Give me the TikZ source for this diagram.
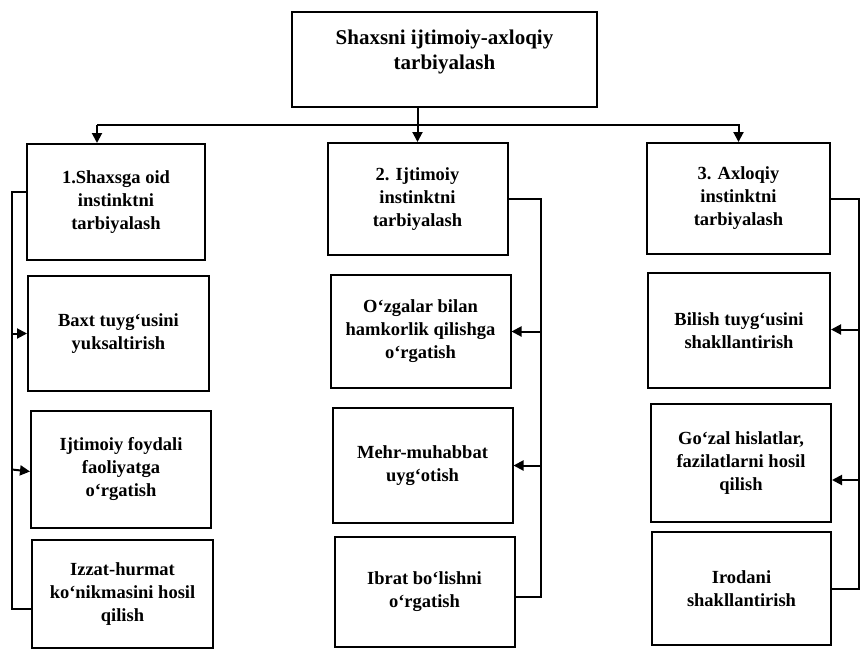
\documentclass[tikz,border=0pt]{standalone}
\usepackage{fontspec}
\setmainfont{Liberation Serif}
\usetikzlibrary{arrows.meta}

\begin{document}
\begin{tikzpicture}[x=1pt,y=-1pt]
            \tikzset{Box/.style={%
                shape=rectangle,%
                draw=black,%
                line width=2pt,%
                minimum width=180pt,%
                minimum height=114pt,%
                inner sep=3pt,%
                align=center,%
                font=\fontsize{18.5}{23}\selectfont\bfseries,%
            }}
            \tikzset{Title/.style={%
                Box,%
                minimum width=305pt,%
                minimum height=95pt,%
                font=\fontsize{21}{25}\selectfont\bfseries,%
            }}
            \tikzset{Link/.style={%
                line width=2pt,%
                -{Triangle[length=10pt,width=10pt]},%
            }}
            \tikzset{Line/.style={%
                line width=2pt,%
            }}

            \useasboundingbox (0,0) rectangle (862,651);

            \node[Title] (top) at (444.5,59.5) {Shaxsni ijtimoiy-axloqiy\\tarbiyalash\\[-5pt]};

            \node[Box, minimum width=178pt, minimum height=116pt] (b1) at (116,202) {1.Shaxsga oid\\instinktni\\tarbiyalash};
            \node[Box, minimum height=112pt] (b2) at (417.5,199) {2. Ijtimoiy\\instinktni\\tarbiyalash};
            \node[Box, minimum width=183pt, minimum height=111pt] (b3) at (738.5,198.5) {3. Axloqiy\\instinktni\\tarbiyalash};

            \node[Box, minimum width=181pt, minimum height=115pt] (b11) at (118.5,333.5) {Baxt tuyg‘usini\\yuksaltirish};
            \node[Box, minimum height=117pt] (b12) at (121,469.5) {Ijtimoiy foydali\\faoliyatga\\o‘rgatish};
            \node[Box, minimum width=181pt, minimum height=108pt] (b13) at (122.5,594) {Izzat-hurmat\\ko‘nikmasini hosil\\qilish};

            \node[Box, minimum height=113pt] (b21) at (420.5,331.5) {O‘zgalar bilan\\hamkorlik qilishga\\o‘rgatish};
            \node[Box, minimum height=115pt] (b22) at (422.5,465.5) {Mehr-muhabbat\\uyg‘otish};
            \node[Box, minimum height=110pt] (b23) at (424.5,591.5) {Ibrat bo‘lishni\\o‘rgatish};

            \node[Box, minimum width=182pt, minimum height=115pt] (b31) at (739,330.5) {Bilish tuyg‘usini\\shakllantirish};
            \node[Box, minimum height=118pt] (b32) at (741,463) {Go‘zal hislatlar,\\fazilatlarni hosil\\qilish};
            \node[Box, minimum width=179pt, minimum height=113pt] (b33) at (741.5,588.5) {Irodani\\shakllantirish};

            % top level
            \coordinate (busL) at (97,125);
            \draw[Link] (b2.north |- top.south) -- (b2.north);
            \draw[Link] (busL) -| (b3.north);
            \draw[Link] (busL) -- (busL |- b1.north);

            % left column
            \coordinate (spineL) at (12,0);
            \draw[Line] ([yshift=10pt]b1.west) -| (spineL |- b13.west) |- ([yshift=-15pt]b13.west);
            \draw[Link] (b11.west -| spineL) -- (b11.west);
            \draw[Link] (b12.west -| spineL) -- ([yshift=-2pt]b12.west);

            % middle column
            \coordinate (spineM) at (541,0);
            \draw[Line] (b2.east) -| (spineM |- b23.east) |- ([yshift=-5pt]b23.east);
            \draw[Link] (b21.east -| spineM) -- (b21.east);
            \draw[Link] (b22.east -| spineM) -- (b22.east);

            % right column
            \coordinate (spineR) at (859,0);
            \draw[Line] (b3.east) -| (spineR |- b33.east) -- (b33.east);
            \draw[Link] ([yshift=1pt]b31.east -| spineR) -- ([yshift=1pt]b31.east);
            \draw[Link] ([yshift=-17pt]b32.east -| spineR) -- ([yshift=-17pt]b32.east);
\end{tikzpicture}
\end{document}
